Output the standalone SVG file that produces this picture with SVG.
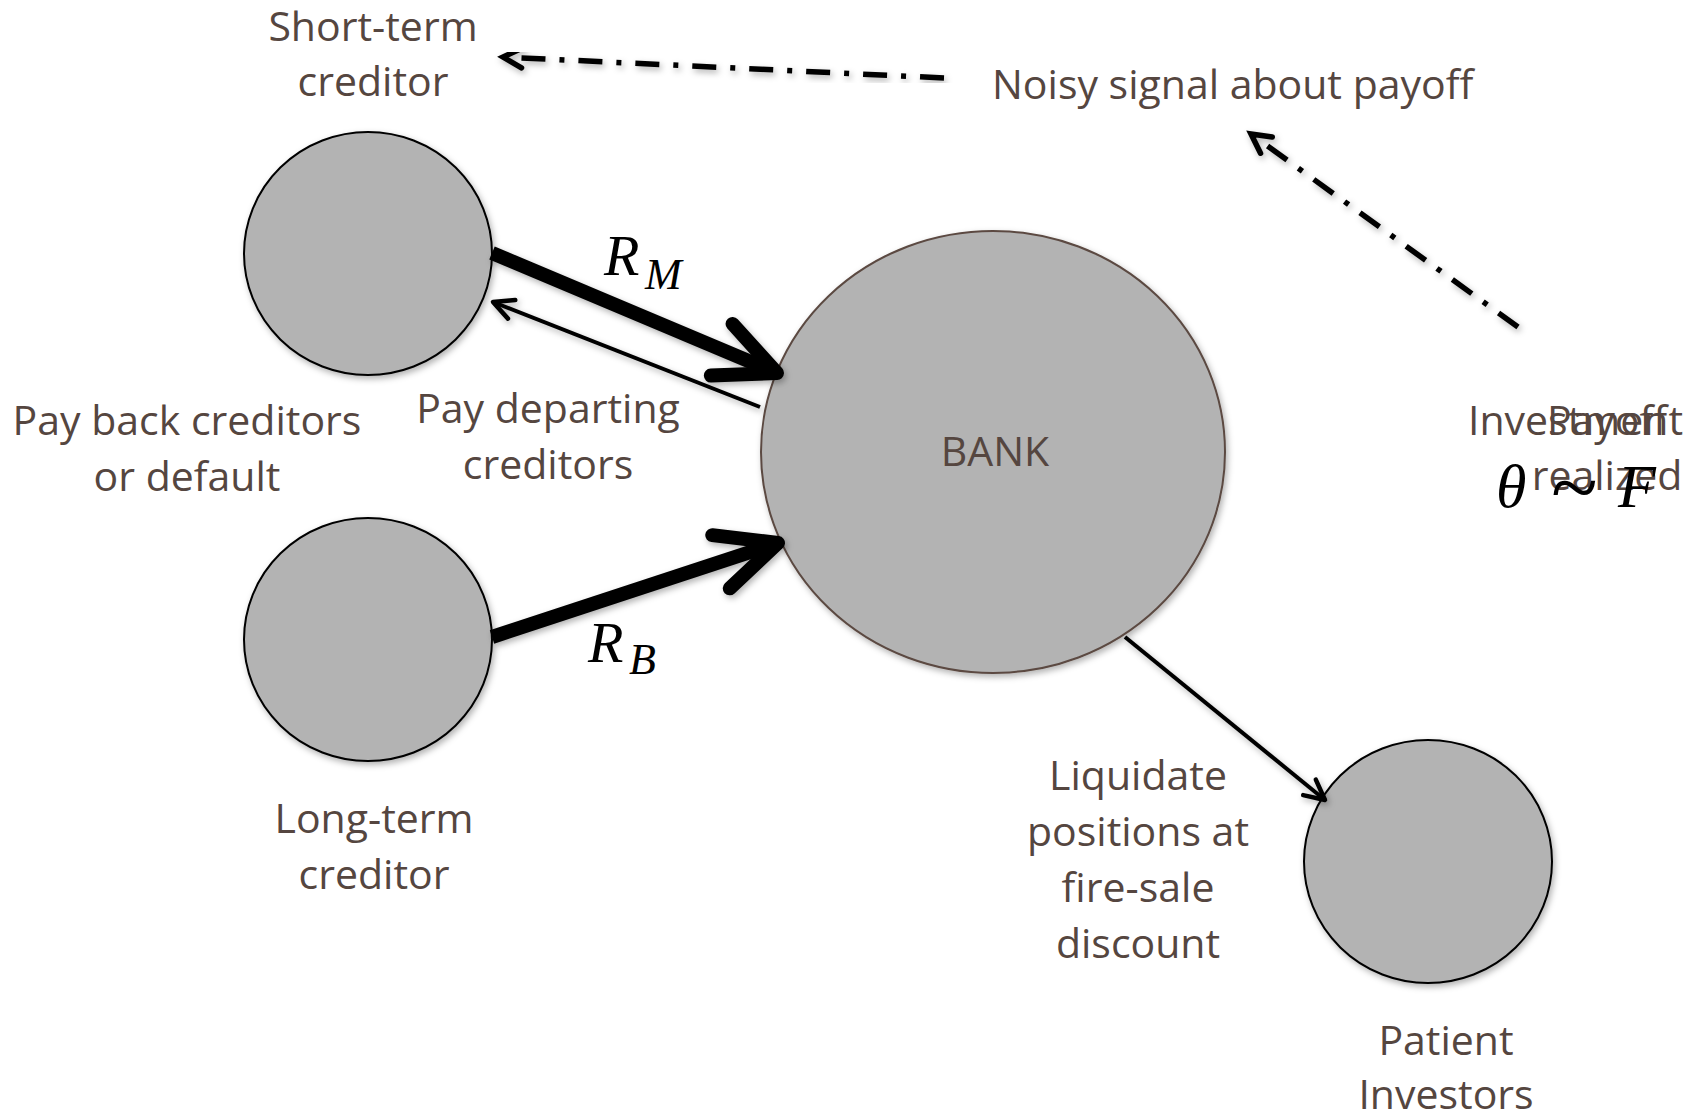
<svg xmlns="http://www.w3.org/2000/svg" width="1705" height="1114" viewBox="0 0 1705 1114">
<style>
.lbl{font-family:"Open Sans","Liberation Sans",sans-serif;font-size:41px;fill:#554640;}
.mid{text-anchor:middle;}
.math{font-family:"Liberation Serif","DejaVu Serif",serif;font-style:italic;fill:#000;}
.node{fill:#b3b3b3;stroke:#000;stroke-width:2;}
.bank{fill:#b3b3b3;stroke:#5b4a42;stroke-width:2;}
.thick{fill:none;stroke:#000;stroke-width:14;}
.thin{fill:none;stroke:#000;stroke-width:4;}
.dd{fill:none;stroke:#000;stroke-width:5.5;stroke-dasharray:24 14 5 14;}
</style>
<defs>
<filter id="sh" x="-20%" y="-20%" width="140%" height="140%">
<feDropShadow dx="2" dy="3" stdDeviation="3" flood-color="#000" flood-opacity="0.3"/>
</filter>
<marker id="bigHead" markerUnits="userSpaceOnUse" orient="auto" refX="0" refY="0" markerWidth="200" markerHeight="200" viewBox="-100 -100 200 200" overflow="visible">
<path d="M-60,-28 L0,0 L-60,28" fill="none" stroke="#000" stroke-width="14" stroke-linecap="round" stroke-linejoin="round"/>
</marker>
<marker id="smallHead" markerUnits="userSpaceOnUse" orient="auto" refX="0" refY="0" markerWidth="80" markerHeight="80" viewBox="-40 -40 80 80" overflow="visible">
<path d="M-20,-10 L0,0 L-20,10" fill="none" stroke="#000" stroke-width="4.5" stroke-linecap="round" stroke-linejoin="round"/>
</marker>
<marker id="ddHead" markerUnits="userSpaceOnUse" orient="auto" refX="0" refY="0" markerWidth="80" markerHeight="80" viewBox="-40 -40 80 80" overflow="visible">
<path d="M-19,-10 L0,0 L-19,10" fill="none" stroke="#000" stroke-width="5.5" stroke-dasharray="none" stroke-linecap="round" stroke-linejoin="miter"/>
</marker>
</defs>
<rect width="1705" height="1114" fill="#fff"/>

<g id="short-term-creditor">
<ellipse class="node" cx="368" cy="253.5" rx="124" ry="121.5" filter="url(#sh)"/>
<text class="lbl mid" x="373" y="41">Short-term</text>
<text class="lbl mid" x="373" y="96">creditor</text>
</g>

<g id="long-term-creditor">
<ellipse class="node" cx="368" cy="639.5" rx="124" ry="121.5" filter="url(#sh)"/>
<text class="lbl mid" x="374" y="833">Long-term</text>
<text class="lbl mid" x="374" y="889">creditor</text>
</g>

<g id="bank">
<ellipse class="bank" cx="993" cy="452" rx="232" ry="221" filter="url(#sh)"/>
<text class="lbl mid" x="995" y="466">BANK</text>
</g>

<g id="patient-investors">
<ellipse class="node" cx="1428" cy="861.5" rx="124" ry="121.5" filter="url(#sh)"/>
<text class="lbl mid" x="1446" y="1055">Patient</text>
<text class="lbl mid" x="1446" y="1109">Investors</text>
</g>

<g id="investment-payoff">
<text class="lbl" x="1468" y="435">Investment</text>
<text class="lbl mid" x="1607" y="435">Payoff</text>
<text class="lbl mid" x="1607" y="490">realized</text>
<text class="math" x="1496" y="507" font-size="62">θ</text>
<text class="math" x="1550" y="516" font-size="86" font-style="normal">~</text>
<text class="math" x="1618" y="507" font-size="62">F</text>
</g>

<g id="connectors">
<path class="thick" d="M492,253 L777,373" marker-end="url(#bigHead)" filter="url(#sh)"/>
<path class="thin" d="M760,407 L493,302" marker-end="url(#smallHead)" filter="url(#sh)"/>
<path class="thick" d="M492,637 L778,543" marker-end="url(#bigHead)" filter="url(#sh)"/>
<path class="thick" d="M1225,446 L1446,446" marker-end="url(#bigHead)" filter="url(#sh)"/>
<path class="thin" d="M1125,637 L1325,800" marker-end="url(#smallHead)" filter="url(#sh)"/>
<path class="dd" d="M944,78 L503,57" marker-end="url(#ddHead)" filter="url(#sh)"/>
<path class="dd" d="M1518,327 L1251,134" marker-end="url(#ddHead)" filter="url(#sh)"/>
</g>

<g id="edge-labels">
<text class="math" x="604" y="275" font-size="58">R</text>
<text class="math" x="645" y="289" font-size="44">M</text>
<text class="math" x="588" y="662" font-size="58">R</text>
<text class="math" x="629" y="674" font-size="44">B</text>
<text class="lbl" x="992" y="99">Noisy signal about payoff</text>
<text class="lbl mid" x="187" y="435">Pay back creditors</text>
<text class="lbl mid" x="187" y="491">or default</text>
<text class="lbl mid" x="548" y="423">Pay departing</text>
<text class="lbl mid" x="548" y="479">creditors</text>
<text class="lbl mid" x="1138" y="790">Liquidate</text>
<text class="lbl mid" x="1138" y="846">positions at</text>
<text class="lbl mid" x="1138" y="902">fire-sale</text>
<text class="lbl mid" x="1138" y="958">discount</text>
</g>
</svg>
